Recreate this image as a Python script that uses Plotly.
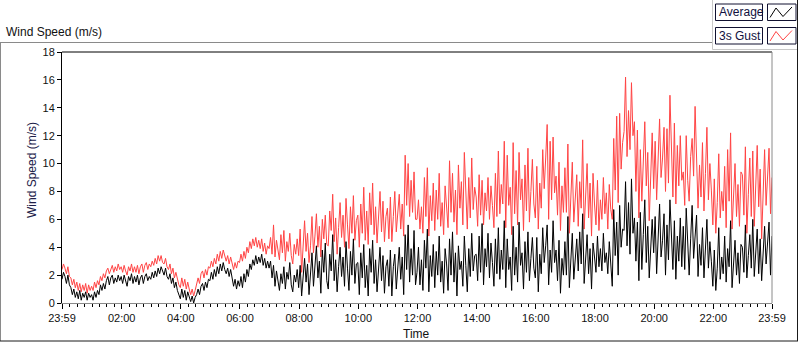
import pandas as pd
import plotly.graph_objects as go

# ---------------- data (3-minute readings, 23:59 -> 23:59) ----------------
START = "2024-01-01 23:59"

AVERAGE = [
    1.7, 2.2, 1.9, 1.4, 2.0, 1.3, 1.1, 0.6, 1.0, 0.4, 0.8, 0.3, 0.9, 0.2, 0.7, 0.4, 0.8, 0.2, 0.7, 0.4,
    0.6, 0.2, 0.8, 0.4, 0.9, 0.6, 1.3, 0.9, 1.4, 1.0, 1.6, 1.9, 1.3, 1.8, 2.0, 1.4, 1.8, 1.5, 2.0, 1.6,
    1.9, 1.4, 2.0, 1.5, 1.2, 1.9, 1.6, 2.1, 1.4, 1.9, 1.5, 2.0, 1.3, 1.8, 2.0, 1.4, 1.9, 2.1, 1.6, 1.9,
    1.7, 2.2, 1.8, 2.3, 1.9, 2.5, 2.1, 2.6, 2.2, 2.0, 2.5, 1.9, 1.7, 2.1, 1.4, 1.8, 1.1, 1.5, 0.9, 0.6,
    0.3, 1.0, 0.4, 0.9, 0.2, 0.8, 0.4, 0.1, 0.5, 0.0, 0.4, 0.6, 1.0, 0.6, 1.2, 1.4, 0.9, 1.5, 1.1, 1.7,
    1.6, 2.2, 1.7, 2.4, 1.9, 2.6, 2.1, 2.8, 2.3, 2.9, 2.4, 2.1, 2.5, 1.9, 2.4, 1.7, 1.2, 1.7, 1.0, 1.6,
    1.2, 1.9, 1.1, 2.1, 1.5, 2.4, 1.9, 2.8, 2.4, 3.1, 2.7, 3.4, 2.8, 3.3, 2.9, 3.5, 2.7, 3.2, 2.5, 3.0,
    2.5, 3.0, 1.8, 2.7, 1.2, 2.3, 1.6, 0.9, 2.1, 1.4, 2.6, 1.0, 2.2, 1.7, 2.9, 1.3, 0.8, 2.0, 1.5, 2.4,
    1.1, 2.7, 0.5, 2.0, 3.2, 1.5, 2.8, 0.6, 1.9, 3.6, 1.2, 2.5, 4.1, 1.8, 3.0, 0.7, 3.8, 2.2, 4.3, 1.6,
    1.0, 3.5, 2.3, 4.9, 1.6, 3.1, 0.8, 2.6, 4.0, 1.9, 3.3, 1.2, 4.4, 2.5, 0.9, 3.7, 2.0, 4.6, 1.4, 2.8,
    2.9, 0.6, 3.6, 1.8, 4.2, 1.1, 2.7, 0.5, 3.9, 2.2, 4.5, 1.4, 3.1, 0.8, 2.4, 4.0, 1.6, 3.4, 0.7, 2.6,
    3.1, 1.2, 3.8, 0.5, 2.6, 3.5, 1.0, 2.2, 4.0, 1.7, 3.3, 0.6, 4.9, 2.4, 5.6, 1.5, 3.9, 2.0, 5.2, 1.3,
    2.2, 4.0, 1.3, 3.1, 0.9, 4.5, 2.5, 5.3, 0.8, 3.4, 1.9, 4.2, 1.1, 3.7, 2.0, 4.8, 1.5, 3.0, 0.7, 3.9,
    2.8, 0.9, 4.6, 2.0, 5.1, 1.5, 3.6, 0.5, 4.1, 2.4, 3.0, 1.2, 4.8, 2.7, 0.8, 3.9, 1.9, 5.0, 2.3, 3.4,
    3.5, 1.6, 4.8, 2.2, 5.7, 1.3, 3.9, 2.6, 5.0, 1.8, 4.3, 2.9, 1.2, 4.6, 2.1, 5.4, 1.7, 3.8, 2.4, 5.9,
    1.1, 4.6, 2.4, 3.3, 0.9, 5.5, 2.0, 4.0, 1.5, 5.8, 2.7, 3.6, 1.0, 4.4, 2.2, 5.1, 1.6, 3.2, 4.7, 2.5,
    1.8, 4.7, 0.8, 3.5, 2.1, 5.4, 2.9, 4.1, 5.6, 1.3, 3.8, 2.2, 5.9, 2.9, 3.8, 1.6, 4.5, 0.7, 3.2, 2.0,
    4.4, 2.0, 6.2, 1.1, 3.7, 5.0, 1.7, 3.2, 4.6, 2.3, 5.1, 2.8, 6.4, 1.4, 3.6, 4.9, 2.1, 3.9, 1.0, 4.3,
    3.3, 2.2, 4.8, 2.6, 3.9, 2.3, 5.0, 2.9, 3.6, 2.1, 4.4, 2.7, 1.2, 6.7, 3.4, 5.8, 2.0, 7.0, 4.0, 5.3,
    5.2, 8.7, 4.1, 7.2, 3.5, 8.9, 5.0, 6.1, 3.0, 5.8, 1.6, 6.5, 2.4, 4.9, 7.4, 2.9, 5.5, 1.8, 4.2, 6.0,
    3.6, 6.2, 2.1, 5.0, 7.1, 3.3, 4.5, 6.4, 2.0, 5.6, 3.1, 7.4, 4.3, 2.4, 5.9, 1.7, 4.8, 3.0, 6.1, 2.6,
    5.5, 2.4, 6.8, 3.7, 2.0, 4.6, 7.0, 3.2, 5.1, 6.3, 1.9, 4.2, 2.7, 5.4, 1.8, 3.9, 6.0, 2.5, 4.4, 3.0,
    1.2, 3.8, 0.9, 2.5, 5.4, 1.7, 3.3, 2.1, 4.8, 1.5, 3.9, 2.6, 5.9, 1.1, 3.0, 4.5, 2.0, 3.6, 1.4, 4.2,
    4.0, 2.2, 5.6, 1.8, 3.4, 4.9, 2.5, 6.0, 1.9, 3.7, 5.3, 2.1, 4.6, 1.6, 3.8, 5.5, 2.8, 4.4, 5.8, 2.0,
    4.8,
]

GUST_3S = [
    2.4, 2.8, 2.5, 2.1, 2.6, 1.9, 1.8, 1.3, 1.7, 1.1, 1.5, 0.9, 1.4, 0.8, 1.3, 0.9, 1.4, 0.7, 1.3, 0.9,
    1.2, 0.9, 1.5, 1.1, 1.6, 1.3, 1.9, 1.6, 2.1, 1.8, 2.3, 2.5, 2.1, 2.5, 2.7, 2.2, 2.6, 2.3, 2.8, 2.4,
    2.6, 2.2, 2.7, 2.3, 2.0, 2.6, 2.3, 2.8, 2.2, 2.6, 2.2, 2.7, 2.1, 2.6, 2.8, 2.2, 2.7, 2.9, 2.4, 2.8,
    2.6, 3.0, 2.7, 3.2, 2.8, 3.4, 3.0, 3.4, 2.9, 2.8, 3.2, 2.6, 2.4, 2.8, 2.1, 2.5, 1.8, 2.2, 1.6, 1.3,
    1.1, 1.8, 1.2, 1.7, 1.0, 1.5, 1.0, 0.6, 1.0, 0.5, 0.9, 1.3, 1.8, 1.4, 2.1, 2.3, 1.8, 2.4, 2.0, 2.6,
    2.5, 3.0, 2.6, 3.2, 2.8, 3.5, 3.0, 3.7, 3.2, 3.8, 3.3, 3.0, 3.4, 2.8, 3.3, 2.7, 2.4, 2.9, 2.5, 3.0,
    2.9, 3.5, 3.0, 3.7, 3.2, 4.0, 3.6, 4.4, 3.9, 4.6, 4.1, 4.7, 4.0, 4.5, 3.9, 4.6, 3.7, 4.3, 3.5, 4.1,
    3.9, 4.7, 3.5, 5.6, 3.3, 4.5, 3.8, 3.1, 4.9, 3.6, 5.2, 3.0, 4.4, 3.7, 5.0, 3.4, 2.8, 4.2, 3.5, 4.6,
    3.4, 5.3, 2.2, 4.5, 5.9, 3.7, 5.0, 2.9, 4.1, 6.2, 3.6, 4.8, 6.4, 4.0, 5.5, 3.3, 6.0, 4.6, 6.3, 4.2,
    4.1, 6.6, 5.2, 7.8, 4.4, 6.1, 3.5, 5.4, 7.2, 4.7, 6.3, 4.0, 7.5, 5.6, 3.9, 6.9, 5.0, 7.7, 4.5, 5.9,
    6.3, 4.0, 7.1, 5.0, 8.3, 4.5, 6.6, 4.2, 7.9, 5.6, 8.6, 4.9, 6.9, 4.3, 5.8, 8.0, 5.1, 7.3, 4.4, 6.2,
    6.8, 4.6, 7.6, 4.4, 6.2, 8.0, 5.1, 6.4, 7.8, 5.3, 7.1, 4.8, 10.6, 7.0, 10.0, 6.2, 8.8, 6.5, 9.4, 6.0,
    6.0, 7.4, 5.3, 6.9, 5.0, 9.0, 6.2, 9.7, 4.8, 7.7, 5.9, 8.6, 5.2, 8.1, 6.0, 9.3, 5.5, 7.2, 4.9, 8.4,
    7.0, 5.4, 10.2, 6.5, 9.3, 5.8, 8.1, 4.9, 9.9, 6.8, 8.7, 5.6, 10.8, 7.2, 5.3, 9.0, 6.1, 10.4, 6.7, 8.3,
    7.6, 5.5, 9.2, 6.3, 8.8, 5.6, 7.9, 6.6, 9.0, 6.0, 8.4, 7.0, 5.4, 9.3, 6.2, 10.9, 6.4, 8.5, 7.1, 11.6,
    5.4, 10.6, 7.0, 8.3, 4.9, 11.5, 6.4, 9.5, 5.6, 10.8, 7.4, 8.9, 5.2, 9.9, 6.6, 11.1, 5.8, 8.0, 10.3, 7.1,
    6.1, 9.8, 5.3, 8.6, 6.8, 11.0, 8.2, 10.4, 12.8, 6.0, 11.6, 7.4, 11.9, 7.9, 9.1, 6.3, 10.1, 5.2, 8.4, 6.5,
    9.7, 6.5, 11.4, 5.0, 8.2, 10.1, 5.8, 7.6, 9.2, 5.5, 8.7, 6.8, 11.7, 5.3, 7.9, 10.0, 6.1, 8.6, 4.8, 9.3,
    7.1, 5.6, 8.8, 5.2, 7.4, 6.0, 9.0, 6.4, 7.9, 5.3, 8.5, 6.7, 6.0, 11.8, 8.1, 13.4, 7.2, 13.6, 9.6, 11.5,
    12.3, 16.2, 10.5, 13.8, 11.0, 15.8, 12.0, 13.0, 8.0, 12.4, 6.1, 11.0, 7.3, 9.6, 13.0, 8.4, 10.8, 5.9, 9.1, 12.2,
    8.2, 11.6, 7.4, 10.1, 13.2, 9.0, 10.4, 12.6, 8.0, 12.5, 8.6, 14.9, 10.2, 7.6, 12.9, 7.1, 11.3, 8.4, 12.0, 8.8,
    9.4, 7.0, 12.0, 8.8, 7.3, 10.5, 11.8, 9.1, 14.1, 10.2, 6.8, 9.9, 7.6, 11.5, 6.6, 9.3, 12.6, 7.4, 10.0, 8.1,
    5.6, 8.9, 5.0, 7.2, 10.7, 6.1, 8.0, 6.6, 9.8, 5.4, 11.0, 7.3, 12.2, 5.3, 7.7, 10.0, 6.2, 8.5, 5.5, 9.4,
    9.2, 6.3, 11.2, 5.0, 7.8, 10.4, 6.2, 10.9, 5.5, 8.1, 11.3, 6.9, 9.6, 4.6, 8.4, 11.0, 7.0, 9.5, 11.1, 6.4,
    9.0,
]

X_TICK_TEXT = ["23:59", "02:00", "04:00", "06:00", "08:00", "10:00", "12:00",
               "14:00", "16:00", "18:00", "20:00", "22:00", "23:59"]
Y_TICKS = [0, 2, 4, 6, 8, 10, 12, 14, 16, 18]
SERIES_NAMES = ["Average", "3s Gust"]

# ---------------- build ----------------
n = min(len(AVERAGE), len(GUST_3S))
step_min = 24 * 60 / (n - 1)
times = pd.date_range(START, periods=n, freq=f"{step_min}min")
t0 = times[0]
t1 = pd.Timestamp(START) + pd.Timedelta(hours=24)
major_ticks = [t0] + list(pd.date_range("2024-01-02 02:00", "2024-01-02 22:00", freq="2h")) + [t1]
minor_ticks = list(pd.date_range("2024-01-02 00:15", "2024-01-02 23:45", freq="15min"))

FONT = "Liberation Sans, Arial, sans-serif"
W, H = 800, 342
L, R, T, B = 62, 772, 52, 303
PW, PH = R - L, B - T


def px(x):
    return (x - L) / PW


def py(y):
    return (B - y) / PH


fig = go.Figure()
fig.add_trace(go.Scatter(x=times, y=GUST_3S[:n], mode="lines", name=SERIES_NAMES[1],
                         line=dict(color="#ff4444", width=1), showlegend=False))
fig.add_trace(go.Scatter(x=times, y=AVERAGE[:n], mode="lines", name=SERIES_NAMES[0],
                         line=dict(color="#000000", width=1), showlegend=False))

shapes = []


def line(x0, y0, x1, y1, color, width=1):
    shapes.append(dict(type="line", xref="paper", yref="paper",
                       x0=px(x0), y0=py(y0), x1=px(x1), y1=py(y1),
                       line=dict(color=color, width=width)))


# outer frame
line(0, 42.5, 712, 42.5, "#8a8a8a")
line(0.5, 42.5, 0.5, 341, "#8a8a8a")
line(0, 341, 798, 341, "#1a1a1a")
line(797.5, 0, 797.5, 341, "#1a1a1a")
# legend panel border
line(712.5, 0, 712.5, 49.5, "#c8c8c8")
line(712.5, 49.5, 797, 49.5, "#c8c8c8")
# plot frame
line(L, T, R, T, "#000000")
line(R, T, R, B, "#8a8a8a")

# legend boxes
annotations = []
for i, (name, col) in enumerate(zip(SERIES_NAMES, ["#000000", "#ff4444"])):
    top = 4 + i * 23.5
    bot = top + 16.5
    shapes.append(dict(type="rect", xref="paper", yref="paper",
                       x0=px(715.5), x1=px(762.5), y0=py(bot), y1=py(top),
                       line=dict(color="#101030", width=1), fillcolor="white"))
    shapes.append(dict(type="rect", xref="paper", yref="paper",
                       x0=px(767.5), x1=px(796), y0=py(bot), y1=py(top),
                       line=dict(color="#101030", width=1), fillcolor="white"))
    pts = [(770, bot - 3), (776, top + 4), (783, bot - 4), (792, top + 3)]
    path = "M " + " L ".join(f"{px(a)},{py(b)}" for a, b in pts)
    shapes.append(dict(type="path", xref="paper", yref="paper", path=path,
                       line=dict(color=col, width=1)))
    annotations.append(dict(text=name, xref="paper", yref="paper",
                            x=px(717), y=py((top + bot) / 2), xanchor="left", yanchor="middle",
                            showarrow=False, font=dict(family=FONT, size=12, color="#101040")))

annotations += [
    dict(text="Wind Speed (m/s)", xref="paper", yref="paper", x=px(4), y=py(32),
         xanchor="left", yanchor="middle", showarrow=False,
         font=dict(family=FONT, size=12, color="#111111")),
    dict(text="Wind Speed (m/s)", xref="paper", yref="paper", x=px(32), y=py(170),
         xanchor="center", yanchor="middle", showarrow=False, textangle=-90,
         font=dict(family=FONT, size=12, color="#202048")),
    dict(text="Time", xref="paper", yref="paper", x=px(416), y=py(334),
         xanchor="center", yanchor="middle", showarrow=False,
         font=dict(family=FONT, size=12, color="#111111")),
]

fig.update_layout(
    width=W, height=H,
    margin=dict(l=L, r=W - R, t=T, b=H - B, pad=0),
    paper_bgcolor="white", plot_bgcolor="white",
    font=dict(family=FONT, size=11, color="#111111"),
    showlegend=False,
    hovermode=False,
    shapes=shapes,
    annotations=annotations,
    xaxis=dict(
        type="date", range=[t0, t1], automargin=False,
        tickmode="array", tickvals=major_ticks, ticktext=X_TICK_TEXT,
        ticks="outside", ticklen=5, tickwidth=1, tickcolor="#000000",
        minor=dict(tickmode="array", tickvals=minor_ticks, ticks="outside",
                   ticklen=3, tickwidth=1, tickcolor="#000000", showgrid=False),
        showgrid=False, zeroline=False,
        showline=True, linecolor="#8a8a8a", linewidth=1,
        tickfont=dict(family=FONT, size=11, color="#111111"),
    ),
    yaxis=dict(
        range=[0, 18], automargin=False,
        tickmode="array", tickvals=Y_TICKS,
        ticks="outside", ticklen=4, tickwidth=1, tickcolor="#000000",
        showgrid=False, zeroline=False,
        showline=True, linecolor="#000000", linewidth=1,
        tickfont=dict(family=FONT, size=11, color="#111111"),
    ),
)

fig.write_html("out.html", config={"displayModeBar": False},
               post_script="document.body.style.margin='0px';")
